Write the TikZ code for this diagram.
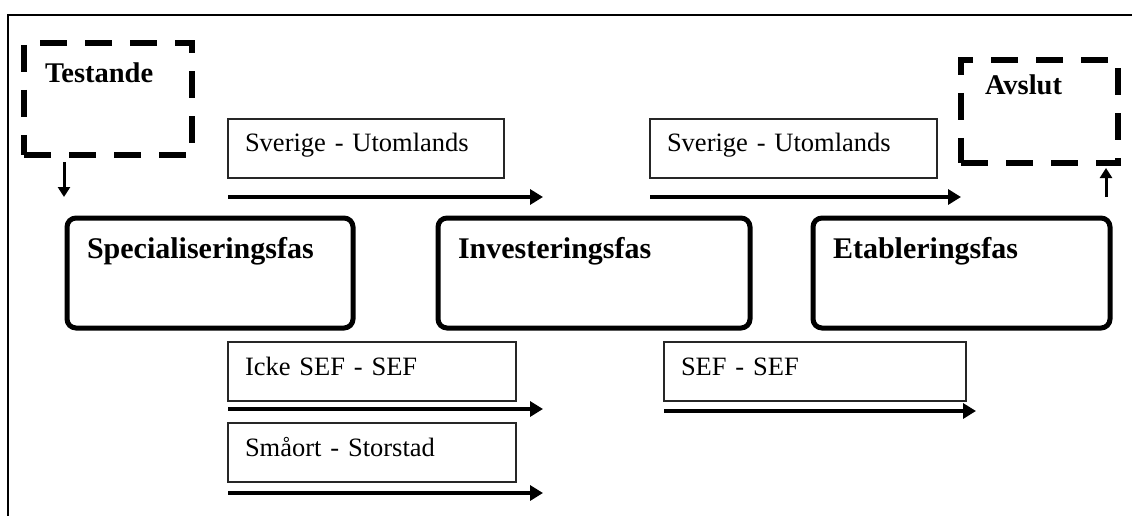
\documentclass[tikz,border=0pt]{standalone}
\usepackage{fontspec}
\setmainfont{Liberation Serif}
\usetikzlibrary{arrows.meta}

\tikzset{
  fas/.style={draw, line width=5pt, rounded corners=9pt, anchor=north west,
    inner xsep=20pt, inner ysep=0pt, outer sep=0pt, align=left,
    text height=40pt, text depth=70pt, font=\fontsize{30}{33}\selectfont\bfseries},
  ruta/.style={draw=black!85, line width=1.8pt, anchor=north west,
    inner xsep=17pt, inner ysep=0pt, outer sep=0pt, align=left,
    text height=33pt, text depth=26pt, font=\fontsize{26.5}{30}\selectfont},
  streck/.style={draw, line width=6.5pt, dash pattern=on 27pt off 18pt, anchor=north west,
    inner ysep=0pt, outer sep=0pt, align=left, font=\fontsize{28.5}{31}\selectfont\bfseries},
  pil/.style={line width=4.5pt, -{Triangle[length=13pt,width=15pt]}},
  litenpil/.style={line width=3pt, -{Triangle[length=10pt,width=12pt]}}
}

\begin{document}
\begin{tikzpicture}[x=1pt,y=-1pt]
    \useasboundingbox (0,0) rectangle (1132,516);
    \draw[line width=2.5pt] (1132,15) -- (8,15) -- (8,516);

    % faser
    \node[fas, text width=246pt] (spec) at (67,218) {Specialiseringsfas};
    \node[fas, text width=272pt] (inv) at (438,218) {Investeringsfas};
    \node[fas, text width=257pt] (etab) at (813,218) {Etableringsfas};

    % start och slut
    \node[streck, inner xsep=21pt, text width=126pt, text height=40pt, text depth=72pt] (test) at (24,43) {Testande};
    \node[streck, inner xsep=24pt, text width=109pt, text height=35pt, text depth=68pt] (avsl) at (961,60) {Avslut};

    % rutor
    \node[ruta, text width=242pt] (sv1) at (228,119) {Sverige - Utomlands};
    \node[ruta, text width=253pt] (sv2) at (650,119) {Sverige - Utomlands};
    \node[ruta, text width=254pt] (icke) at (228,342) {Icke SEF - SEF};
    \node[ruta, text width=268pt] (sef) at (664,342) {SEF - SEF};
    \node[ruta, text width=254pt] (sma) at (228,423) {Småort - Storstad};

    % pilar
    \draw[pil] ([yshift=-19pt]sv1.south west) -- ++(315,0);
    \draw[pil] ([yshift=-19pt]sv2.south west) -- ++(311,0);
    \draw[pil] ([yshift=-8pt]icke.south west) -- ++(315,0);
    \draw[pil] ([yshift=-10pt]sef.south west) -- ++(312,0);
    \draw[pil] ([yshift=-11pt]sma.south west) -- ++(315,0);

    \coordinate (tned) at ([xshift=40pt,yshift=-7pt]test.south west);
    \coordinate (aupp) at ([xshift=-12pt,yshift=-5pt]avsl.south east);
    \draw[litenpil] (tned) -- ([yshift=21pt]spec.north -| tned);
    \draw[litenpil] ([yshift=21pt]etab.north -| aupp) -- (aupp);
\end{tikzpicture}
\end{document}
